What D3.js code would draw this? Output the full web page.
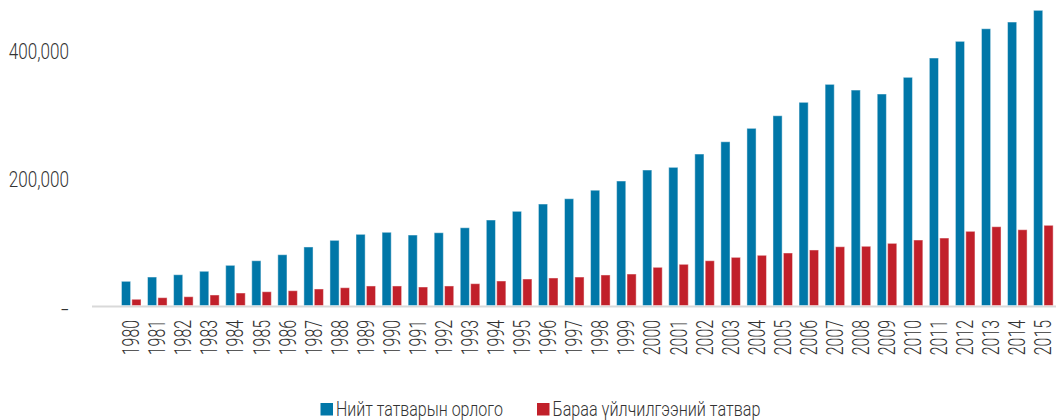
<!DOCTYPE html>
<html>
<head>
<meta charset="utf-8">
<script src="https://cdn.jsdelivr.net/npm/d3@7"></script>
<style>
  body { margin: 0; background: #fff; }
  text { font-family: Roboto, "Noto Sans", sans-serif; fill: #333; font-weight: 300; }
</style>
</head>
<body>
<svg id="chart" width="1061" height="420"></svg>
<script>
const years = d3.range(1980, 2016).map(String);
const totalTax = [39400, 46100, 49700, 55100, 64400, 71600, 81000, 93100, 103500, 112900,
  116100, 111800, 115400, 123200, 135300, 148900, 160300, 168600, 181900, 196300,
  213500, 217700, 238500, 257700, 278700, 298400, 319400, 347500, 338600, 332400,
  358500, 388700, 414800, 434500, 445000, 463300];
const vatTax = [11300, 13800, 15300, 18000, 21100, 23100, 24700, 27400, 29400, 32100,
  32100, 30500, 32100, 35700, 39900, 43000, 44600, 46100, 49300, 50800,
  61300, 66000, 71600, 76900, 80100, 83700, 88400, 93500, 94200, 98800,
  104000, 107100, 117600, 124800, 120100, 127000];
const seriesNames = ["Нийт татварын орлого", "Бараа үйлчилгээний татвар"];
const seriesColors = ["#0077a8", "#c1202a"];
const yTicks = [0, 200000, 400000];

const svg = d3.select("#chart");

// squeeze a text so its length matches the narrow face of the original
function squeeze(sel, perChar) {
  sel.each(function () {
    const t = d3.select(this);
    const len = this.getComputedTextLength();
    const target = this.textContent.length * perChar;
    t.attr("transform", t.attr("transform") + ` scale(${target / len},1)`);
  });
}

const x = d3.scaleBand().domain(years).range([118.2, 1056.4])
  .paddingInner(0.25).paddingOuter(0.125);
const xs = d3.scaleBand().domain([0, 1]).range([0, x.bandwidth()]).paddingInner(0.12);
const y = d3.scaleLinear().domain([0, 400000]).range([306.5, 50.8]);

// baseline
svg.append("line")
  .attr("x1", 92).attr("x2", 1056)
  .attr("y1", y(0)).attr("y2", y(0))
  .attr("stroke", "#d9d9d9").attr("stroke-width", 2);

const rows = years.map((yr, i) => ({year: yr, vals: [totalTax[i], vatTax[i]]}));

const g = svg.append("g").selectAll("g").data(rows).join("g")
  .attr("transform", d => `translate(${x(d.year)},0)`);

g.selectAll("rect").data(d => d.vals).join("rect")
  .attr("x", (d, i) => xs(i))
  .attr("width", xs.bandwidth())
  .attr("y", d => y(d))
  .attr("height", d => y(0) - y(d) - 1)
  .attr("fill", (d, i) => seriesColors[i])
  .attr("stroke", "rgba(255,255,255,0.45)")
  .attr("stroke-width", 1);

// x labels
svg.append("g").selectAll("text").data(years).join("text")
  .attr("transform", d => `translate(${x(d) + x.bandwidth() / 2 + 8},320) rotate(-90)`)
  .attr("text-anchor", "end")
  .style("font-size", "23.5px")
  .text(d => d)
  .call(squeeze, 8.8);

// y labels
const fmt = d3.format(",");
svg.append("g").selectAll("text").data(yTicks).join("text")
  .attr("transform", d => `translate(69,${y(d) + (d === 0 ? 11 : 8)})`)
  .attr("text-anchor", "end")
  .style("font-size", "22.5px")
  .text(d => d === 0 ? "–" : fmt(d))
  .call(squeeze, 8.6);

// legend
const legendX = [320.5, 537];
const legendW = [167, 208];
const leg = svg.append("g").selectAll("g").data(seriesNames).join("g")
  .attr("transform", (d, i) => `translate(${legendX[i]},403)`);
leg.append("rect").attr("width", 12.5).attr("height", 12.5)
  .attr("fill", (d, i) => seriesColors[i]);
leg.append("text")
  .attr("transform", "translate(15.5,12.8)")
  .style("font-size", "21px")
  .text(d => d)
  .each(function (d, i) {
    const len = this.getComputedTextLength();
    d3.select(this).attr("transform", `translate(15.5,12.8) scale(${legendW[i] / len},1)`);
  });
</script>
</body>
</html>
